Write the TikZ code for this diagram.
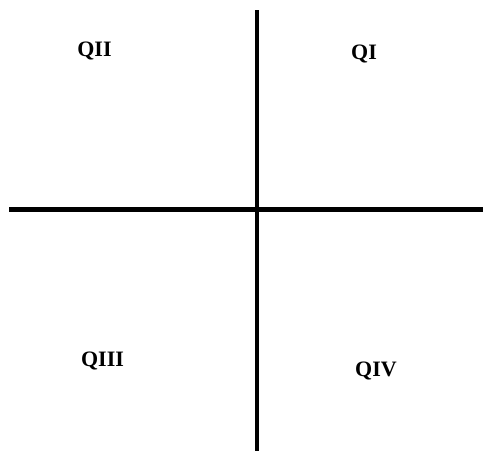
\documentclass[tikz,border=0pt]{standalone}
\usepackage{fontspec}
\setmainfont{Liberation Serif}
\begin{document}
\begin{tikzpicture}[x=1pt, y=-1pt,
      axis/.style={line width=4.5pt},
      q/.style={font=\bfseries\fontsize{22}{22}\selectfont, inner sep=0pt}]
    \useasboundingbox (0,0) rectangle (483,451);
    \coordinate (left) at (9,209.5);
    \coordinate (right) at (483,209.5);
    \coordinate (top) at (257,10);
    \coordinate (bottom) at (257,451);
    \draw[axis] (left) -- (right);
    \draw[axis] (top) -- (bottom);
    \node[q] (q2) at (94.5,51) {QII};
    \node[q] (q1) at (364,54) {QI};
    \node[q] (q3) at (102.5,361) {QIII};
    \node[q] (q4) at (376,371) {QIV};
  \end{tikzpicture}
\end{document}
